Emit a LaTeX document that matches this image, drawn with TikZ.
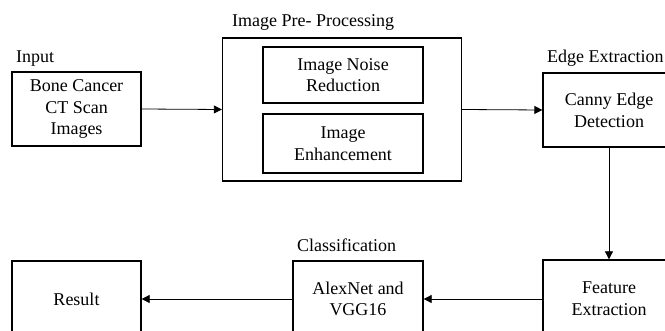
\documentclass[tikz,border=0pt]{standalone}
\usepackage{fontspec}
\setmainfont{Liberation Serif}
\usetikzlibrary{arrows.meta}
\begin{document}
\begin{tikzpicture}[x=1pt,y=-1pt,
  box/.style={draw, line width=1.3pt, inner sep=0pt, align=center, font=\fontsize{18}{21.7}\selectfont},
  lbl/.style={inner sep=0pt, anchor=base west, font=\fontsize{18}{21.7}\selectfont},
  arr/.style={line width=0.8pt, -{Triangle[length=8pt,width=8pt]}}]
\useasboundingbox (0,0) rectangle (665,331);
\clip (0,0) rectangle (665,331);
\node[box, minimum width=129pt, minimum height=74pt] (in) at (76.5,109) {Bone Cancer\\CT Scan\\Images};
\node[box, minimum width=239pt, minimum height=143pt] (pre) at (342,109.5) {};
\node[box, minimum width=160pt, minimum height=56pt] (noise) at (343,75) {Image Noise\\Reduction};
\node[box, minimum width=160pt, minimum height=59pt] (enh) at (343,143.5) {Image\\Enhancement};
\node[box, minimum width=132pt, minimum height=74pt] (canny) at (609,110) {Canny Edge\\Detection};
\node[box, minimum width=132pt, minimum height=78pt] (feat) at (609,299) {Feature\\Extraction};
\node[box, minimum width=130pt, minimum height=76pt] (alex) at (358,299) {AlexNet and\\VGG16};
\node[box, minimum width=129pt, minimum height=76pt] (res) at (76.5,299) {Result};
\node[lbl] (linput) at (16,63) {Input};
\node[lbl] (lpre) at (232,27) {Image Pre- Processing};
\node[lbl] (ledge) at (547,63) {Edge Extraction};
\node[lbl] (lclass) at (297,252) {Classification};
\draw[arr] (in.east) -- (pre.west);
\draw[arr] (pre.east) -- (canny.west);
\draw[arr] (canny.south) -- (feat.north);
\draw[arr] (feat.west) -- (alex.east);
\draw[arr] (alex.west) -- (res.east);
\end{tikzpicture}
\end{document}
